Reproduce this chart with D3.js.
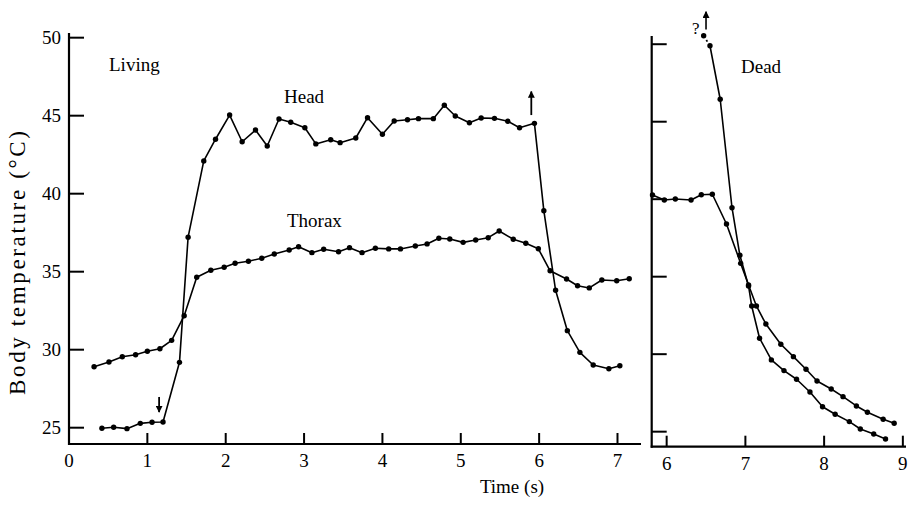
<!DOCTYPE html>
<html>
<head>
<meta charset="utf-8">
<script src="https://cdn.jsdelivr.net/npm/d3@7"></script>
<style>
  html, body { margin: 0; padding: 0; background: #fff; }
  svg { display: block; }
  text { font-family: "Liberation Serif", "DejaVu Serif", serif; fill: #000; }
</style>
</head>
<body>
<svg id="chart" width="909" height="505"></svg>
<script>
// Living insect: time (s) and body temperature (°C)
const livingHeadT = [0.42,0.57,0.74,0.91,1.06,1.20,1.41,1.52,1.72,1.87,2.05,2.21,2.38,2.53,2.68,2.83,3.01,3.15,3.34,3.46,3.66,3.81,4.00,4.15,4.32,4.46,4.65,4.79,4.93,5.11,5.26,5.43,5.60,5.75,5.94,6.06,6.21,6.36,6.52,6.69,6.89,7.03];
const livingHeadC = [24.96,25.03,24.94,25.28,25.35,25.37,29.19,37.21,42.10,43.49,45.04,43.33,44.08,43.06,44.79,44.58,44.23,43.19,43.46,43.27,43.57,44.87,43.81,44.66,44.74,44.81,44.81,45.67,44.98,44.55,44.85,44.83,44.64,44.23,44.51,38.91,33.81,31.22,29.83,29.02,28.78,28.97];
const livingThoraxT = [0.32,0.51,0.68,0.85,1.00,1.16,1.31,1.47,1.63,1.81,1.98,2.12,2.29,2.46,2.62,2.81,2.93,3.10,3.25,3.44,3.58,3.74,3.91,4.08,4.23,4.42,4.57,4.72,4.86,5.03,5.19,5.35,5.49,5.67,5.83,5.99,6.14,6.35,6.49,6.64,6.80,6.99,7.15];
const livingThoraxC = [28.91,29.21,29.55,29.68,29.90,30.06,30.60,32.18,34.64,35.09,35.28,35.54,35.67,35.86,36.13,36.39,36.60,36.22,36.44,36.28,36.54,36.22,36.50,36.46,36.46,36.65,36.78,37.14,37.10,36.88,37.03,37.18,37.61,37.08,36.82,36.47,35.06,34.53,34.10,33.96,34.47,34.42,34.55];

// Dead insect: passive heating and cooling
const deadHeadT = [6.47,6.55,6.68,6.83,6.93,7.04,7.08,7.18,7.33,7.49,7.65,7.82,7.98,8.14,8.32,8.46,8.63,8.78];
const deadHeadC = [50.55,49.90,46.45,39.45,36.38,34.40,33.11,31.03,29.63,28.94,28.38,27.56,26.61,26.12,25.65,25.17,24.85,24.53];
const deadThoraxT = [5.82,5.97,6.11,6.31,6.44,6.58,6.76,6.94,7.04,7.14,7.26,7.45,7.61,7.77,7.91,8.09,8.24,8.41,8.55,8.75,8.89];
const deadThoraxC = [40.27,39.95,40.01,39.95,40.29,40.32,38.40,35.86,34.46,33.11,31.95,30.64,29.84,29.03,28.27,27.75,27.26,26.66,26.25,25.80,25.54];

// Tick values
const tempTicks = [25, 30, 35, 40, 45, 50];
const livingTimeTicks = [0, 1, 2, 3, 4, 5, 6, 7];
const deadTimeTicks = [6, 7, 8, 9];

// Arrow marks: stimulus on / off (time, from temp, to temp)
const livingArrows = [[1.15, 26.97, 26.0], [5.90, 45.04, 46.55]];

const svg = d3.select("#chart");

// Scales for the two panels
const xL = d3.scaleLinear().domain([0, 7.30]).range([69, 641]);
const yL = d3.scaleLinear().domain([23.955, 50.30]).range([444, 33]);
const xR = d3.scaleLinear().domain([5.81, 9.04]).range([651.7, 906]);
const yR = d3.scaleLinear().domain([24.03, 50.53]).range([446.7, 36]);

const zip = (t, c) => t.map((d, i) => [d, c[i]]);

function drawAxes(x, y, xTicks, showYLabels) {
  const g = svg.append("g");
  const [x0, x1] = x.range();
  const [yb, yt] = y.range();
  // axis lines
  g.append("line").attr("x1", x0).attr("x2", x0).attr("y1", yt).attr("y2", yb + 1)
    .attr("stroke", "#000").attr("stroke-width", 2.2);
  g.append("line").attr("x1", x0 - 1).attr("x2", x1).attr("y1", yb).attr("y2", yb)
    .attr("stroke", "#000").attr("stroke-width", 2.2);
  // y ticks (inward)
  g.selectAll(".yt").data(tempTicks).join("line")
    .attr("x1", x0).attr("x2", x0 + 15)
    .attr("y1", d => y(d)).attr("y2", d => y(d))
    .attr("stroke", "#000").attr("stroke-width", 2);
  if (showYLabels) {
    g.selectAll(".yl").data(tempTicks).join("text")
      .attr("x", x0 - 8).attr("y", d => y(d) + 6.5)
      .attr("text-anchor", "end").attr("font-size", 19)
      .text(d => d);
  }
  // x ticks (inward)
  g.selectAll(".xt").data(xTicks).join("line")
    .attr("x1", d => x(d)).attr("x2", d => x(d))
    .attr("y1", yb).attr("y2", yb - 11)
    .attr("stroke", "#000").attr("stroke-width", 2);
  g.selectAll(".xl").data(xTicks).join("text")
    .attr("x", d => x(d)).attr("y", yb + 23)
    .attr("text-anchor", "middle").attr("font-size", 19)
    .text(d => d);
}

drawAxes(xL, yL, livingTimeTicks, true);
drawAxes(xR, yR, deadTimeTicks, false);

function drawSeries(x, y, pts, dottedFirst) {
  const line = d3.line().x(d => x(d[0])).y(d => y(d[1]));
  const solid = dottedFirst ? pts.slice(1) : pts;
  svg.append("path").attr("d", line(solid))
    .attr("fill", "none").attr("stroke", "#000").attr("stroke-width", 1.6)
    .attr("stroke-linejoin", "round");
  if (dottedFirst) {
    svg.append("path").attr("d", line(pts.slice(0, 2)))
      .attr("fill", "none").attr("stroke", "#000").attr("stroke-width", 1.8)
      .attr("stroke-dasharray", "2,3");
  }
  svg.append("g").selectAll("circle").data(pts).join("circle")
    .attr("cx", d => x(d[0])).attr("cy", d => y(d[1])).attr("r", 2.7)
    .attr("fill", "#000");
}

drawSeries(xL, yL, zip(livingHeadT, livingHeadC), false);
drawSeries(xL, yL, zip(livingThoraxT, livingThoraxC), false);
drawSeries(xR, yR, zip(deadHeadT, deadHeadC), true);
drawSeries(xR, yR, zip(deadThoraxT, deadThoraxC), false);

// Arrow heads
svg.append("defs").append("marker")
  .attr("id", "ah").attr("viewBox", "0 0 10 10").attr("refX", 9).attr("refY", 5)
  .attr("markerWidth", 7).attr("markerHeight", 7).attr("markerUnits", "userSpaceOnUse")
  .attr("orient", "auto")
  .append("path").attr("d", "M0,0 L10,5 L0,10 Z").attr("fill", "#000");

livingArrows.forEach(([t, a, b]) => {
  svg.append("line")
    .attr("x1", xL(t)).attr("x2", xL(t)).attr("y1", yL(a)).attr("y2", yL(b))
    .attr("stroke", "#000").attr("stroke-width", 1.8).attr("marker-end", "url(#ah)");
});

// Off-scale reading for the dead head
svg.append("line")
  .attr("x1", xR(6.50)).attr("x2", xR(6.50)).attr("y1", yR(50.95)).attr("y2", yR(52.1))
  .attr("stroke", "#000").attr("stroke-width", 1.6).attr("marker-end", "url(#ah)");
svg.append("text").attr("x", xR(6.37)).attr("y", 34).attr("font-size", 17)
  .attr("text-anchor", "middle").text("?");

// Panel and series labels
svg.append("text").attr("x", 109).attr("y", 71).attr("font-size", 19).text("Living");
svg.append("text").attr("x", 284).attr("y", 103).attr("font-size", 19).text("Head");
svg.append("text").attr("x", 287).attr("y", 227).attr("font-size", 19).text("Thorax");
svg.append("text").attr("x", 741).attr("y", 73).attr("font-size", 19).text("Dead");

// Axis titles
svg.append("text").attr("x", 512).attr("y", 493).attr("font-size", 19)
  .attr("text-anchor", "middle").text("Time (s)");
svg.append("text")
  .attr("transform", "translate(25,263) rotate(-90)")
  .attr("text-anchor", "middle").attr("font-size", 23)
  .attr("textLength", 264).attr("lengthAdjust", "spacing")
  .text("Body temperature (°C)");
</script>
</body>
</html>
